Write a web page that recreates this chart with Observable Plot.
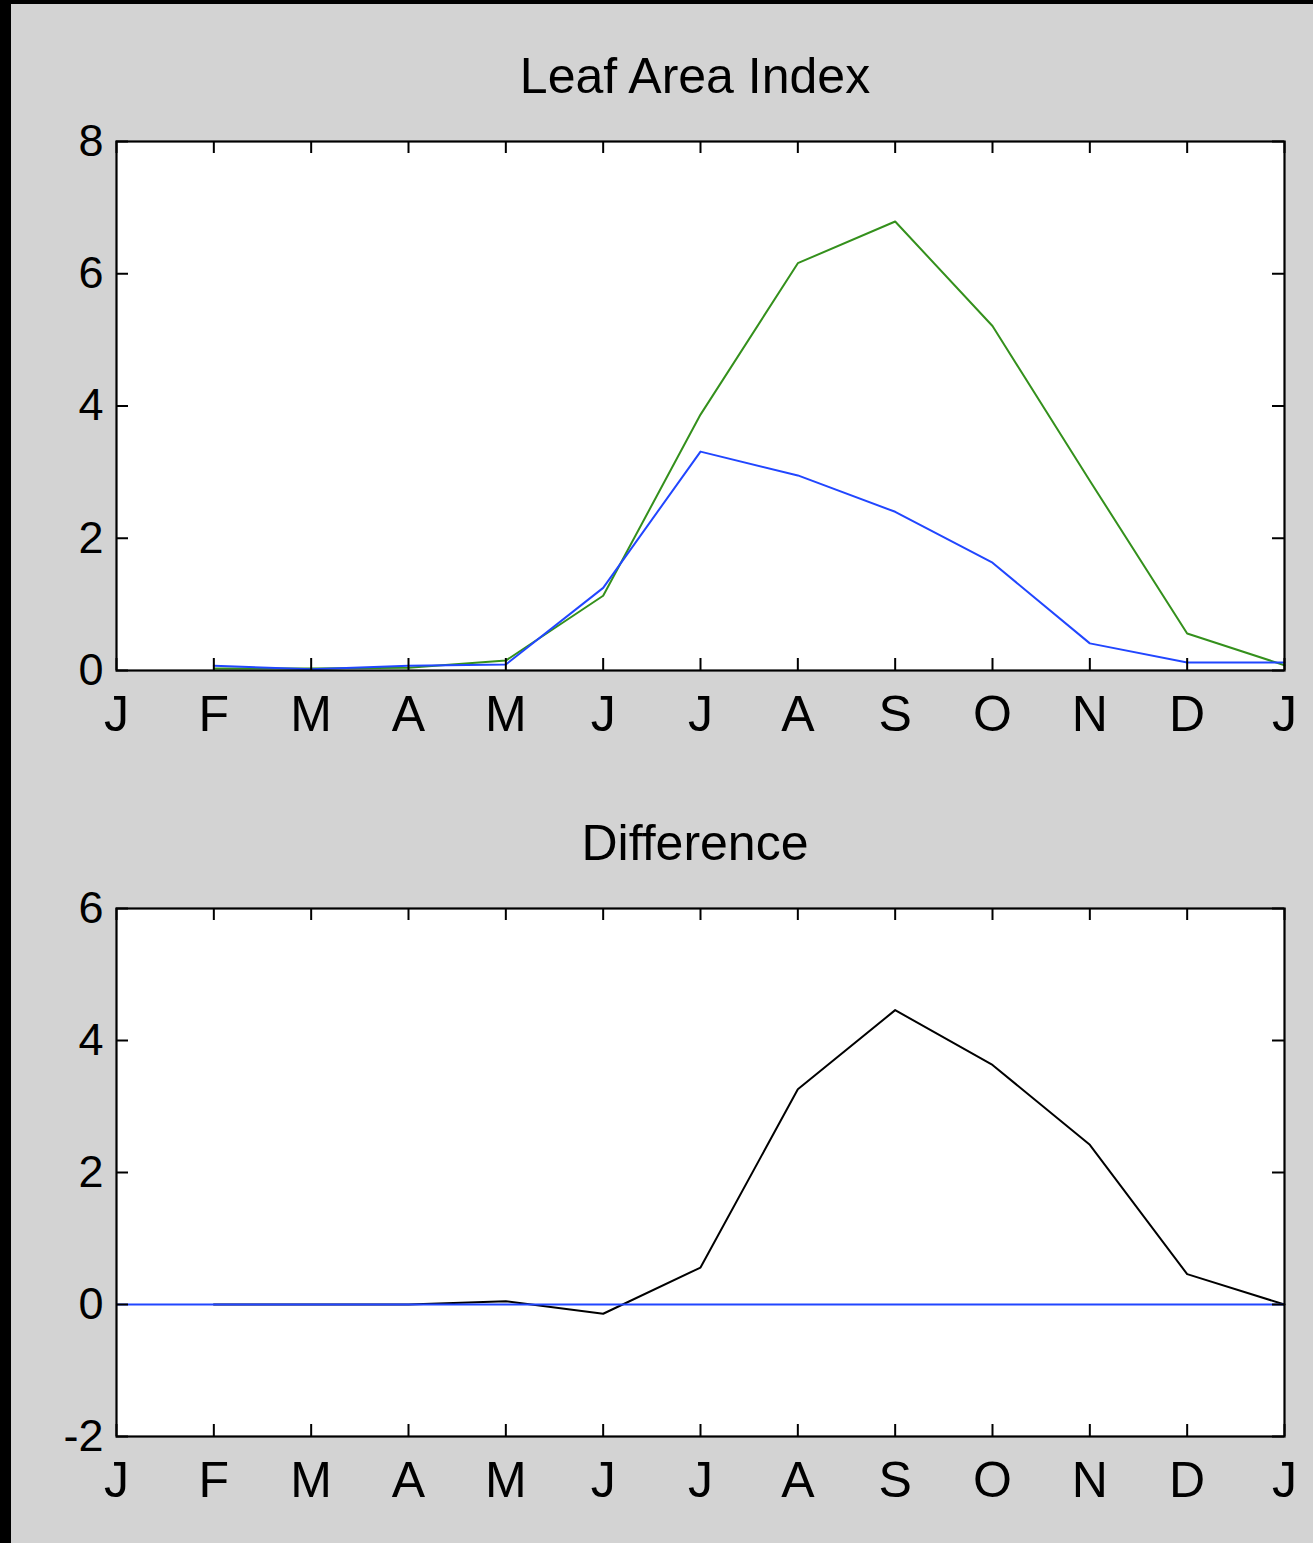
<!DOCTYPE html>
<html>
<head>
<meta charset="utf-8">
<script src="https://cdn.jsdelivr.net/npm/d3@7"></script>
<script src="https://cdn.jsdelivr.net/npm/@observablehq/plot@0.6"></script>
<style>
  html, body { margin: 0; padding: 0; background: #000; }
  body { width: 1313px; height: 1543px; position: relative; overflow: hidden; }
  #panel { position: absolute; left: 11px; top: 4px; right: 0; bottom: 0; background: #d3d3d3; }
  .chart { position: absolute; left: 0; }
  .title { position: absolute; left: 116px; width: 1168px; text-align: center;
           font-family: "Liberation Sans", Arial, sans-serif; font-size: 50px; line-height: 50px; color: #000; }
</style>
</head>
<body>
<div id="panel"></div>
<div class="title" style="top:51px; margin-left:-5px">Leaf Area Index</div>
<div class="title" style="top:818px; margin-left:-5px">Difference</div>
<div id="top" class="chart" style="top:0px"></div>
<div id="bottom" class="chart" style="top:780px"></div>
<script>
// Month tick labels (January through the following January)
const monthLabels = ["J", "F", "M", "A", "M", "J", "J", "A", "S", "O", "N", "D", "J"];
const monthTicks = d3.range(0, 13);

// Monthly values, plotted at positions 1..12
const months = [1, 2, 3, 4, 5, 6, 7, 8, 9, 10, 11, 12];
const laiGreen = [0.03, 0.03, 0.04, 0.15, 1.13, 3.87, 6.16, 6.79, 5.21, 2.87, 0.56, 0.08];
const laiBlue  = [0.07, 0.02, 0.07, 0.09, 1.25, 3.31, 2.95, 2.40, 1.63, 0.41, 0.12, 0.12];
const difference = [0.0, 0.0, 0.0, 0.05, -0.14, 0.56, 3.26, 4.46, 3.63, 2.42, 0.46, 0.0];

const topYTicks = [0, 2, 4, 6, 8];
const bottomYTicks = [-2, 0, 2, 4, 6];

const BLUE = "#2146ff";
const GREEN = "#34901c";
const FONT = "'Liberation Sans', Arial, sans-serif";
const TICK = 12;

const toRows = (ys) => months.map((m, i) => ({x: m, y: ys[i]}));

function panel({height, marginTop, marginBottom, yDomain, yTicks, marks}) {
  const width = 1313, marginLeft = 116, marginRight = 29;
  const innerH = height - marginTop - marginBottom;
  const innerW = width - marginLeft - marginRight;
  return Plot.plot({
    width, height, marginLeft, marginRight, marginTop, marginBottom,
    style: {background: "transparent", fontFamily: FONT, color: "#000", overflow: "visible"},
    x: {domain: [0, 12]},
    y: {domain: yDomain},
    marks: [
      Plot.frame({fill: "white", stroke: null}),
      ...marks,
      // inward ticks on all four sides
      Plot.tickX(monthTicks, {x: d => d, insetTop: innerH - TICK, stroke: "#000", strokeWidth: 2}),
      Plot.tickX(monthTicks, {x: d => d, insetBottom: innerH - TICK, stroke: "#000", strokeWidth: 2}),
      Plot.tickY(yTicks, {y: d => d, insetRight: innerW - TICK, stroke: "#000", strokeWidth: 2}),
      Plot.tickY(yTicks, {y: d => d, insetLeft: innerW - TICK, stroke: "#000", strokeWidth: 2}),
      Plot.frame({stroke: "#000", strokeWidth: 2.2}),
      Plot.axisX(monthTicks, {
        tickSize: 0, tickPadding: 25, label: null, fontSize: 50,
        tickFormat: d => monthLabels[d]
      }),
      Plot.axisY(yTicks, {
        tickSize: 0, tickPadding: 13, label: null, fontSize: 45,
        tickFormat: d => d < 0 ? "-" + Math.abs(d) : String(d)
      })
    ]
  });
}

document.getElementById("top").append(panel({
  height: 780, marginTop: 141, marginBottom: 110,
  yDomain: [0, 8], yTicks: topYTicks,
  marks: [
    Plot.line(toRows(laiGreen), {x: "x", y: "y", stroke: GREEN, strokeWidth: 2}),
    Plot.line(toRows(laiBlue), {x: "x", y: "y", stroke: BLUE, strokeWidth: 2})
  ]
}));

document.getElementById("bottom").append(panel({
  height: 763, marginTop: 128, marginBottom: 107,
  yDomain: [-2, 6], yTicks: bottomYTicks,
  marks: [
    Plot.line(toRows(difference), {x: "x", y: "y", stroke: "#000", strokeWidth: 2}),
    Plot.ruleY([0], {stroke: BLUE, strokeWidth: 2})
  ]
}));
</script>
</body>
</html>
